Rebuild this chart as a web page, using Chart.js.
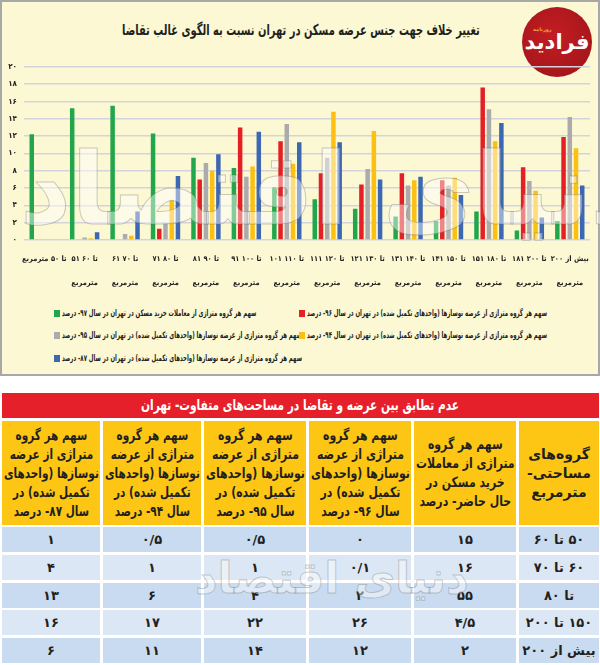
<!DOCTYPE html>
<html lang="fa">
<head>
<meta charset="utf-8">
<script src="https://cdn.jsdelivr.net/npm/chart.js@4.4.1/dist/chart.umd.min.js"></script>
<style>
html,body{margin:0;padding:0;background:#fff;}
#root{position:relative;width:600px;height:665px;overflow:hidden;font-family:'DejaVu Sans',sans-serif;}
#panel{position:absolute;left:0;top:0;width:596px;height:372px;background:#fbf8d3;border:2px solid #a8a8a8;}
#title{position:absolute;left:0;width:602px;top:19px;height:22px;line-height:22px;text-align:center;font-weight:bold;font-size:15px;color:#231f20;white-space:nowrap;}
#title span{display:inline-block;transform-origin:center;white-space:nowrap;}
#logo{position:absolute;left:522px;top:7px;width:70px;height:70px;border-radius:50%;background:radial-gradient(circle at 45% 40%,#c41d23,#a3161b 80%);color:#fff;font-weight:bold;text-align:center;}
#logo .big{position:absolute;left:0;width:70px;top:23px;font-size:21px;line-height:24px;}
#logo .small{position:absolute;left:11px;top:19px;font-size:5px;color:#f7a03a;}
#chartBox{position:absolute;left:0;top:55px;width:600px;height:245px;}
.wm{position:absolute;white-space:nowrap;font-weight:bold;color:rgba(255,255,255,0.45);-webkit-text-stroke:1px rgba(110,110,110,0.35);pointer-events:none;}
.leg{position:absolute;height:12px;display:flex;align-items:center;font-weight:bold;font-size:9px;color:#222;white-space:nowrap;}
.leg .sq{width:6px;height:7px;flex:none;margin-right:2px;}
.leg .lt{display:inline-block;transform-origin:left center;white-space:nowrap;}
#tTitle{position:absolute;left:2px;top:393px;width:597px;height:25px;background:#e5202a;color:#fff;font-weight:bold;font-size:15px;line-height:25px;text-align:center;white-space:nowrap;}
#tTitle span{display:inline-block;transform-origin:center;white-space:nowrap;}
.cell{position:absolute;display:flex;align-items:center;justify-content:center;text-align:center;color:#231f20;font-weight:bold;overflow:visible;}
.cell span{display:inline-block;transform-origin:center;white-space:nowrap;flex:none;}
.hd{background:#fdc614;font-size:14px;line-height:19px;}
.bd{font-size:13px;}
</style>
</head>
<body>
<div id="root">
  <div id="panel"></div>
  <div id="title"><span dir="rtl">تغییر خلاف جهت جنس عرضه مسکن در تهران نسبت به الگوی غالب تقاضا</span></div>
  <div id="logo"><div class="small">روزنامه</div><div class="big" dir="rtl">فرادید</div></div>
  <div id="chartBox"><canvas id="c" width="600" height="245"></canvas></div>
  <div class="wm" dir="rtl" style="left:20px;top:125px;font-size:100px;line-height:130px;">دنیای اقتصاد</div>
  <div id="legend"></div>
  <div id="tTitle"><span dir="rtl">عدم تطابق بین عرضه و تقاضا در مساحت‌های متفاوت- تهران</span></div>
  <div id="table"></div>
  <div class="wm" dir="rtl" style="left:195px;top:548px;font-size:44px;line-height:60px;">دنیای اقتصاد</div>
</div>
<script>
// ---------- chart data ----------
const categories = [
  "تا ۵۰ مترمربع",
  ["۵۱ تا ۶۰","مترمربع"],
  ["۶۱ تا ۷۰","مترمربع"],
  ["۷۱ تا ۸۰","مترمربع"],
  ["۸۱ تا ۹۰","مترمربع"],
  ["۹۱ تا ۱۰۰","مترمربع"],
  ["۱۰۱ تا ۱۱۰","مترمربع"],
  ["۱۱۱ تا ۱۲۰","مترمربع"],
  ["۱۲۱ تا ۱۳۰","مترمربع"],
  ["۱۳۱ تا ۱۴۰","مترمربع"],
  ["۱۴۱ تا ۱۵۰","مترمربع"],
  ["۱۵۱ تا ۱۸۰","مترمربع"],
  ["۱۸۱ تا ۲۰۰","مترمربع"],
  ["بیش از ۲۰۰","مترمربع"]
];
const deals97  = [12.2, 15.2, 15.5, 12.3, 9.5, 8.3, 6.1, 4.7, 3.6, 2.7, 2.2, 3.3, 1.1, 2.2];
const supply96 = [0, 0, 0.1, 1.3, 7.0, 13.0, 11.4, 7.7, 6.4, 7.7, 6.9, 17.6, 8.4, 11.9];
const supply95 = [0, 0.3, 0.7, 1.9, 8.9, 7.3, 13.4, 9.5, 8.2, 6.3, 6.3, 15.1, 6.8, 14.2];
const supply94 = [0, 0.2, 0.5, 4.6, 8.0, 8.5, 8.8, 14.8, 12.6, 6.9, 7.2, 11.4, 5.7, 10.6];
const supply87 = [0, 0.9, 3.3, 7.4, 9.9, 12.5, 11.3, 11.3, 7.0, 7.3, 5.2, 13.5, 2.6, 6.3];

const legendLabels = {
  deals97:  "سهم هر گروه متراژی از معاملات خرید مسکن در تهران در سال ۹۷- درصد",
  supply96: "سهم هر گروه متراژی از عرضه نوسازها (واحدهای تکمیل شده) در تهران در سال ۹۶- درصد",
  supply95: "سهم هر گروه متراژی از عرضه نوسازها (واحدهای تکمیل شده) در تهران در سال ۹۵- درصد",
  supply94: "سهم هر گروه متراژی از عرضه نوسازها (واحدهای تکمیل شده) در تهران در سال ۹۴- درصد",
  supply87: "سهم هر گروه متراژی از عرضه نوسازها (واحدهای تکمیل شده) در تهران در سال ۸۷- درصد"
};

// ---------- table data ----------
const tableHeaders = [
  ["گروه‌های","مساحتی-","مترمربع"],
  ["سهم هر گروه","متراژی از معاملات","خرید مسکن در","حال حاضر- درصد"],
  ["سهم هر گروه","متراژی از عرضه","نوسازها (واحدهای","تکمیل شده) در","سال ۹۶- درصد"],
  ["سهم هر گروه","متراژی از عرضه","نوسازها (واحدهای","تکمیل شده) در","سال ۹۵- درصد"],
  ["سهم هر گروه","متراژی از عرضه","نوسازها (واحدهای","تکمیل شده) در","سال ۹۴- درصد"],
  ["سهم هر گروه","متراژی از عرضه","نوسازها (واحدهای","تکمیل شده) در","سال ۸۷- درصد"]
];
const tableGroups = ["۵۰ تا ۶۰","۶۰ تا ۷۰","تا ۸۰","۱۵۰ تا ۲۰۰","بیش از ۲۰۰"];
const tableNow = [15, 16, 55, 4.5, 2];
const table96  = [0, 0.1, 2, 26, 12];
const table95  = [0.5, 1, 4, 22, 14];
const table94  = [0.5, 1, 6, 17, 11];
const table87  = [1, 4, 13, 16, 6];

// ---------- helpers ----------
function toFa(v){
  return String(v).replace('.', '/').replace(/[0-9]/g, d => '۰۱۲۳۴۵۶۷۸۹'[d]);
}
function fitX(span, maxW){
  const w = span.offsetWidth;
  if (w > maxW) span.style.transform = 'scaleX(' + (maxW / w) + ')';
}
function fitExact(span, targetW){
  span.style.transform = 'scaleX(' + (targetW / span.offsetWidth) + ')';
}

const COLORS = {deals97:'#22a64b', supply96:'#e41f26', supply95:'#ababad', supply94:'#fcc012', supply87:'#3c67b3'};
const FONT = "'DejaVu Sans Condensed','DejaVu Sans',sans-serif";

// ---------- chart ----------
new Chart(document.getElementById('c'), {
  type: 'bar',
  data: {
    labels: categories,
    datasets: [
      {label: legendLabels.deals97,  data: deals97,  backgroundColor: COLORS.deals97},
      {label: legendLabels.supply96, data: supply96, backgroundColor: COLORS.supply96},
      {label: legendLabels.supply95, data: supply95, backgroundColor: COLORS.supply95},
      {label: legendLabels.supply94, data: supply94, backgroundColor: COLORS.supply94},
      {label: legendLabels.supply87, data: supply87, backgroundColor: COLORS.supply87}
    ]
  },
  options: {
    responsive: false,
    animation: false,
    layout: {padding: {top: 10, left: 2, right: 10, bottom: 0}},
    datasets: {bar: {barPercentage: 0.72, categoryPercentage: 0.77}},
    plugins: {legend: {display: false}, tooltip: {enabled: false}},
    scales: {
      x: {
        afterFit: s => { s.height = 60; },
        grid: {display: false, drawTicks: false},
        border: {display: false},
        ticks: {
          autoSkip: false, maxRotation: 0, minRotation: 0, padding: 7,
          color: '#231f20',
          font: {family: FONT, size: 7.5, weight: 'bold', lineHeight: '24px'}
        }
      },
      y: {
        min: 0, max: 20,
        afterFit: s => { s.width = 22; },
        grid: {color: '#d3d3dc', lineWidth: 1.5, drawTicks: false},
        border: {display: false},
        ticks: {
          stepSize: 2, padding: 7, color: '#231f20',
          font: {family: FONT, size: 8, weight: 'bold'},
          callback: v => toFa(v)
        }
      }
    }
  }
});

// ---------- legend (HTML, from dataset definitions) ----------
const legendLayout = [
  {key:'deals97',  x:54,  y:307},
  {key:'supply96', x:299, y:307},
  {key:'supply95', x:54,  y:329},
  {key:'supply94', x:299, y:329},
  {key:'supply87', x:54,  y:352}
];
const legendBox = document.getElementById('legend');
const legSpans = [];
legendLayout.forEach(it => {
  const d = document.createElement('div');
  d.className = 'leg';
  d.style.left = it.x + 'px';
  d.style.top = it.y + 'px';
  const sq = document.createElement('span');
  sq.className = 'sq';
  sq.style.background = COLORS[it.key];
  const t = document.createElement('span');
  t.className = 'lt';
  t.dir = 'rtl';
  t.textContent = legendLabels[it.key];
  d.appendChild(sq); d.appendChild(t);
  legendBox.appendChild(d);
  legSpans.push(t);
});
const refW = legSpans[1].offsetWidth;
const legScale = 240 / refW;
legSpans.forEach(t => { t.style.transform = 'scaleX(' + legScale + ')'; });

// titles
fitExact(document.querySelector('#title span'), 358);
fitExact(document.querySelector('#tTitle span'), 318);

// ---------- table ----------
const colX = [[519,599],[414,516],[309,411],[204,306],[103,201],[2,100]]; // right-to-left columns
const tableCols = [tableGroups, tableNow, table96, table95, table94, table87];
const tbl = document.getElementById('table');
function addCell(cls, x0, x1, y, h, bg, html, maxW){
  const c = document.createElement('div');
  c.className = 'cell ' + cls;
  c.style.left = x0 + 'px'; c.style.width = (x1 - x0) + 'px';
  c.style.top = y + 'px'; c.style.height = h + 'px';
  c.style.background = bg;
  const s = document.createElement('span');
  s.dir = 'rtl';
  s.innerHTML = html;
  c.appendChild(s);
  tbl.appendChild(c);
  fitX(s, maxW);
}
tableHeaders.forEach((lines, i) => {
  addCell('hd', colX[i][0], colX[i][1], 421, 104, '#fdc614', lines.join('<br>'), colX[i][1] - colX[i][0] - 3);
});
const rowBg = ['#c8dbf0', '#dce7f5'];
for (let r = 0; r < tableGroups.length; r++) {
  const y = 527 + Math.round(r * 27.8);
  tableCols.forEach((col, i) => {
    const v = i === 0 ? col[r] : toFa(col[r]);
    addCell('bd', colX[i][0], colX[i][1], y, 25, rowBg[r % 2], v, colX[i][1] - colX[i][0] - 4);
  });
}
</script>
</body>
</html>
